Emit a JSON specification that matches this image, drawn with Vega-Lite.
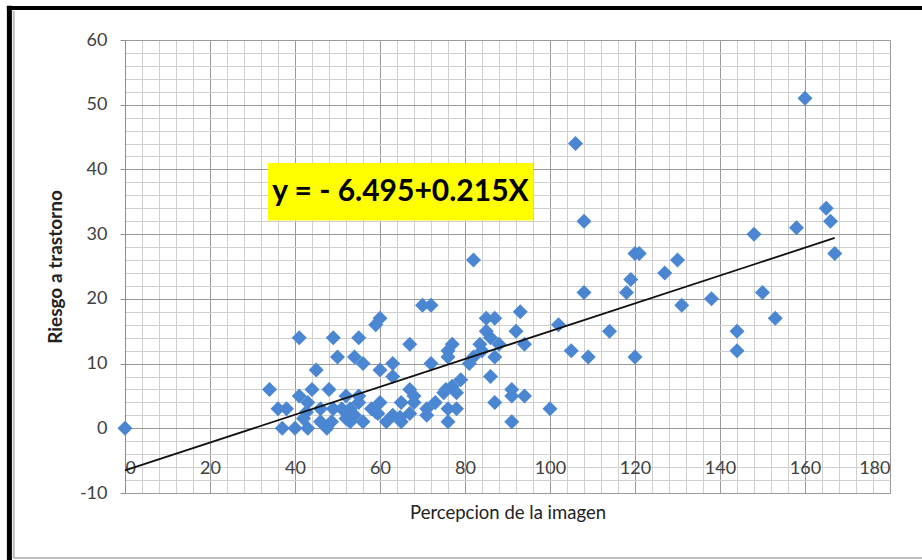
{
  "$schema": "https://vega.github.io/schema/vega-lite/v6.json",
  "width": 765,
  "height": 453,
  "autosize": "none",
  "padding": {"left": 125, "top": 40, "right": 32, "bottom": 67},
  "background": "white",
  "config": {"view": {"stroke": null}, "font": "Lato"},
  "datasets": {
    "points": [
      {"x": 0, "y": 0}, {"x": 106, "y": 44}, {"x": 160, "y": 51}, {"x": 108, "y": 32}, {"x": 108, "y": 21},
      {"x": 105, "y": 12}, {"x": 109, "y": 11}, {"x": 102, "y": 16}, {"x": 100, "y": 3}, {"x": 114, "y": 15},
      {"x": 118, "y": 21}, {"x": 119, "y": 23}, {"x": 120, "y": 27}, {"x": 121, "y": 27}, {"x": 120, "y": 11},
      {"x": 127, "y": 24}, {"x": 130, "y": 26}, {"x": 131, "y": 19}, {"x": 138, "y": 20}, {"x": 144, "y": 15},
      {"x": 144, "y": 12}, {"x": 148, "y": 30}, {"x": 150, "y": 21}, {"x": 153, "y": 17}, {"x": 158, "y": 31},
      {"x": 165, "y": 34}, {"x": 166, "y": 32}, {"x": 167, "y": 27},
      {"x": 82, "y": 26}, {"x": 93, "y": 18}, {"x": 92, "y": 15}, {"x": 85, "y": 17}, {"x": 87, "y": 17},
      {"x": 85, "y": 15}, {"x": 86, "y": 14}, {"x": 88, "y": 13}, {"x": 94, "y": 13}, {"x": 87, "y": 11},
      {"x": 83.5, "y": 13}, {"x": 84, "y": 12}, {"x": 86, "y": 8}, {"x": 91, "y": 6}, {"x": 91, "y": 5},
      {"x": 94, "y": 5}, {"x": 87, "y": 4}, {"x": 91, "y": 1}, {"x": 81, "y": 10}, {"x": 82, "y": 11},
      {"x": 79, "y": 7.5},
      {"x": 70, "y": 19}, {"x": 72, "y": 19}, {"x": 60, "y": 17}, {"x": 59, "y": 16}, {"x": 67, "y": 13},
      {"x": 77, "y": 13}, {"x": 76, "y": 12}, {"x": 76, "y": 11}, {"x": 72, "y": 10}, {"x": 63, "y": 10},
      {"x": 60, "y": 9}, {"x": 63, "y": 8}, {"x": 67, "y": 6}, {"x": 68, "y": 5}, {"x": 77, "y": 6.5},
      {"x": 75.5, "y": 6}, {"x": 75, "y": 5.5}, {"x": 78, "y": 5.5}, {"x": 73, "y": 4}, {"x": 65, "y": 4},
      {"x": 60, "y": 4}, {"x": 71, "y": 3}, {"x": 76, "y": 3}, {"x": 78, "y": 3}, {"x": 59, "y": 2.5},
      {"x": 67, "y": 2.3}, {"x": 63, "y": 2}, {"x": 71, "y": 2}, {"x": 61.5, "y": 1}, {"x": 65, "y": 1},
      {"x": 76, "y": 1}, {"x": 68, "y": 4}, {"x": 64.7, "y": 1.7},
      {"x": 41, "y": 14}, {"x": 49, "y": 14}, {"x": 55, "y": 14}, {"x": 50, "y": 11}, {"x": 54, "y": 11},
      {"x": 56, "y": 10}, {"x": 45, "y": 9}, {"x": 34, "y": 6}, {"x": 44, "y": 6}, {"x": 48, "y": 6},
      {"x": 52, "y": 5}, {"x": 55, "y": 5}, {"x": 41, "y": 5}, {"x": 36, "y": 3}, {"x": 38, "y": 3},
      {"x": 43, "y": 4}, {"x": 42.7, "y": 2.5}, {"x": 46, "y": 3}, {"x": 49, "y": 3}, {"x": 51, "y": 3},
      {"x": 53, "y": 3}, {"x": 55, "y": 4}, {"x": 54, "y": 2}, {"x": 52, "y": 1.5}, {"x": 37, "y": 0},
      {"x": 40, "y": 0}, {"x": 43, "y": 0}, {"x": 47.5, "y": 0}, {"x": 53, "y": 1}, {"x": 56, "y": 1},
      {"x": 58, "y": 3}, {"x": 59.5, "y": 2.3}, {"x": 42, "y": 1.5}, {"x": 46, "y": 1}, {"x": 48.6, "y": 1}
    ],
    "fit": [{"x": 0, "y": -6.495}, {"x": 167, "y": 29.41}]
  },
  "layer": [
    {
      "data": {"name": "points"},
      "mark": {"type": "point", "shape": "diamond", "filled": true, "size": 225, "color": "#4A86D1", "opacity": 1, "strokeWidth": 0},
      "encoding": {
        "x": {
          "field": "x", "type": "quantitative",
          "scale": {"domain": [0, 180], "nice": false, "zero": false},
          "title": "Percepcion de la imagen",
          "axis": {
            "values": [0,4,8,12,16,20,24,28,32,36,40,44,48,52,56,60,64,68,72,76,80,84,88,92,96,100,104,108,112,116,120,124,128,132,136,140,144,148,152,156,160,164,168,172,176,180],
            "tickCount": 500,
            "labelOverlap": false,
            "labelExpr": "datum.value % 20 === 0 ? ('' + datum.value) : ''",
            "gridColor": {"condition": {"test": "datum.value % 20 === 0", "value": "#9A9A9A"}, "value": "#CFCFCF"},
            "grid": true, "gridWidth": 1,
            "domain": false, "ticks": false, "offset": -37,
            "labelPadding": 3, "labelFontSize": 18, "labelColor": "#404040", "labelFont": "Lato",
            "titleFontSize": 18.5, "titleFontWeight": "normal", "titleColor": "#222222", "titleFont": "Lato",
            "titlePadding": 26
          }
        },
        "y": {
          "field": "y", "type": "quantitative",
          "scale": {"domain": [-10, 60], "nice": false, "zero": false},
          "title": "Riesgo a trastorno",
          "axis": {
            "values": [-10,-8,-6,-4,-2,0,2,4,6,8,10,12,14,16,18,20,22,24,26,28,30,32,34,36,38,40,42,44,46,48,50,52,54,56,58,60],
            "tickCount": 500,
            "labelOverlap": false,
            "labelExpr": "datum.value % 10 === 0 ? ('' + datum.value) : ''",
            "gridColor": {"condition": {"test": "datum.value % 10 === 0", "value": "#9A9A9A"}, "value": "#CFCFCF"},
            "tickColor": {"condition": {"test": "datum.value % 10 === 0", "value": "#8C8C8C"}, "value": "transparent"},
            "grid": true, "gridWidth": 1,
            "domain": true, "domainColor": "#8C8C8C",
            "tickSize": 5, "labelPadding": 13,
            "labelFontSize": 18, "labelColor": "#404040", "labelFont": "Lato",
            "titleFontSize": 19, "titleFontWeight": "bold", "titleColor": "#222222", "titleFont": "Lato",
            "titlePadding": 14
          }
        }
      }
    },
    {
      "data": {"name": "fit"},
      "mark": {"type": "line", "color": "#111111", "strokeWidth": 1.8},
      "encoding": {
        "x": {"field": "x", "type": "quantitative", "title": "Percepcion de la imagen"},
        "y": {"field": "y", "type": "quantitative", "title": "Riesgo a trastorno"}
      }
    },
    {
      "data": {"values": [{}]},
      "mark": {"type": "rect", "color": "#FFFF00"},
      "encoding": {
        "x": {"datum": 33.6, "type": "quantitative", "title": "Percepcion de la imagen"},
        "x2": {"datum": 96},
        "y": {"datum": 41, "type": "quantitative", "title": "Riesgo a trastorno"},
        "y2": {"datum": 32.1}
      }
    },
    {
      "data": {"values": [{}]},
      "mark": {"type": "text", "text": "y = - 6.495+0.215X", "fontSize": 30, "fontWeight": "bold", "font": "Lato", "color": "#000000", "align": "center", "baseline": "middle"},
      "encoding": {
        "x": {"datum": 64.8, "type": "quantitative", "title": "Percepcion de la imagen"},
        "y": {"datum": 36.5, "type": "quantitative", "title": "Riesgo a trastorno"}
      }
    },
    {
      "data": {"values": [{}]},
      "mark": {"type": "rule", "color": "#000000", "strokeWidth": 5},
      "encoding": {
        "x": {"datum": -27.2, "type": "quantitative", "title": "Percepcion de la imagen"},
        "y": {"datum": -20.4, "type": "quantitative", "title": "Riesgo a trastorno"},
        "y2": {"datum": 65.3}
      }
    },
    {
      "data": {"values": [{}]},
      "mark": {"type": "rule", "color": "#000000", "strokeWidth": 4},
      "encoding": {
        "x": {"datum": -27.8, "type": "quantitative", "title": "Percepcion de la imagen"},
        "x2": {"datum": 187.6},
        "y": {"datum": 64.94, "type": "quantitative", "title": "Riesgo a trastorno"}
      }
    },
    {
      "data": {"values": [{}]},
      "mark": {"type": "rule", "color": "#BBBBBB", "strokeWidth": 2},
      "encoding": {
        "x": {"datum": -26.2, "type": "quantitative", "title": "Percepcion de la imagen"},
        "y": {"datum": -20.05, "type": "quantitative", "title": "Riesgo a trastorno"},
        "y2": {"datum": 64.5}
      }
    },
    {
      "data": {"values": [{}]},
      "mark": {"type": "rule", "color": "#AAAAAA", "strokeWidth": 1.5},
      "encoding": {
        "x": {"datum": -26.2, "type": "quantitative", "title": "Percepcion de la imagen"},
        "x2": {"datum": 187.6},
        "y": {"datum": -20.05, "type": "quantitative", "title": "Riesgo a trastorno"}
      }
    }
  ]
}
